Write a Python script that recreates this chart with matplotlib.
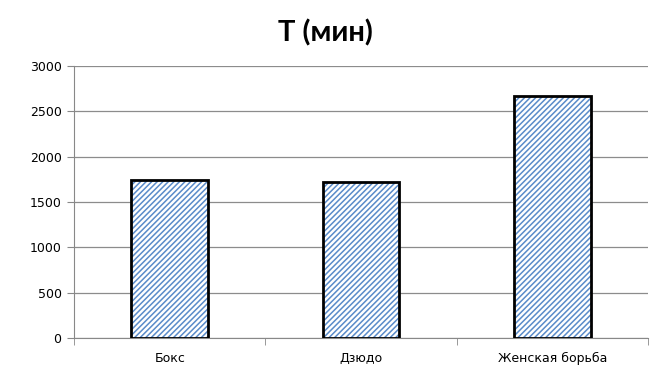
import matplotlib
matplotlib.use("Agg")
import matplotlib.pyplot as plt
import numpy as np

# Данные
categories = ['Бокс', 'Дзюдо', 'Женская борьба']
values = [1740, 1720, 2670]
y_ticks = [0, 500, 1000, 1500, 2000, 2500, 3000]

plt.rcParams['hatch.linewidth'] = 1.1
plt.rcParams['font.family'] = ['DejaVu Sans']

fig = plt.figure(figsize=(6.51, 3.70), dpi=100)
ax = fig.add_axes([0.1137, 0.0865, 0.882, 0.735])

x = np.arange(len(categories))

# штриховка (синие диагональные линии)
ax.bar(x, values, width=0.4, color='white', edgecolor='#5a8bc9',
       hatch='//////', linewidth=0, zorder=3)
# чёрная рамка
ax.bar(x, values, width=0.4, fill=False, edgecolor='black',
       linewidth=2, zorder=4)

ax.set_xlim(-0.5, len(categories) - 0.5)
ax.set_ylim(0, 3000)
ax.set_yticks(y_ticks)
ax.set_xticks(x)
ax.set_xticklabels(categories)
ax.set_xticks(np.arange(-0.5, len(categories)), minor=True)
ax.tick_params(axis='x', which='major', length=0, pad=10, labelsize=9)
ax.tick_params(axis='x', which='minor', length=5, color='#888888', direction='out')
ax.tick_params(axis='y', length=5, color='#888888', labelsize=9, pad=4)

ax.grid(axis='y', color='#8c8c8c', linewidth=0.9, zorder=0)
for side in ['top', 'right']:
    ax.spines[side].set_visible(False)
ax.spines['left'].set_color('#888888')
ax.spines['bottom'].set_color('#888888')

fig.text(0.5, 0.91, 'T (мин)', ha='center', va='center', fontsize=21,
         fontweight='bold', family=['Lato', 'DejaVu Sans'])

fig.savefig('out.png', dpi=100)
